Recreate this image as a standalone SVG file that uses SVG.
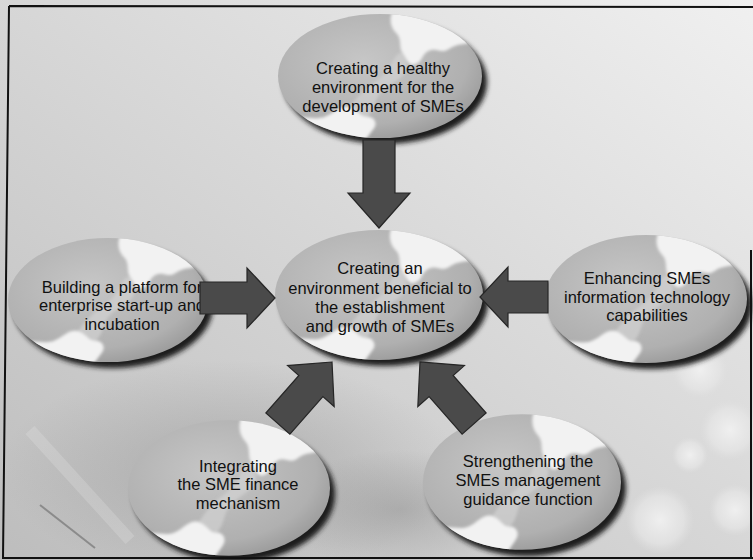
<svg xmlns="http://www.w3.org/2000/svg" xmlns:xlink="http://www.w3.org/1999/xlink" width="753" height="560" viewBox="0 0 753 560">
  <style>
    .lbl { font-family: "Liberation Sans", Arial, sans-serif; font-size: 16.5px; fill: #111; text-anchor: middle; }
    .arrow { fill: #4a4a4a; stroke: #262626; stroke-width: 1.2; stroke-linejoin: miter; }
    .frame { fill: none; stroke: #111; stroke-width: 2; }
    .hl { fill: #f2f2f2; }
  </style>
  <defs>
    <linearGradient id="bg" x1="1" y1="0" x2="0" y2="1">
      <stop offset="0" stop-color="#f0f0f0"/>
      <stop offset="0.45" stop-color="#d9d9d9"/>
      <stop offset="1" stop-color="#bdbdbd"/>
    </linearGradient>
    <radialGradient id="bokeh" cx="0.5" cy="0.5" r="0.5">
      <stop offset="0" stop-color="#f2f2f2" stop-opacity="0.9"/>
      <stop offset="0.7" stop-color="#e6e6e6" stop-opacity="0.7"/>
      <stop offset="1" stop-color="#e0e0e0" stop-opacity="0"/>
    </radialGradient>
    <radialGradient id="dark" cx="0.5" cy="0.5" r="0.5">
      <stop offset="0" stop-color="#8a8a8a" stop-opacity="0.45"/>
      <stop offset="1" stop-color="#8a8a8a" stop-opacity="0"/>
    </radialGradient>
    <radialGradient id="discFill" cx="0.42" cy="0.38" r="0.68">
      <stop offset="0" stop-color="#c6c6c6"/>
      <stop offset="0.75" stop-color="#b0b0b0"/>
      <stop offset="1" stop-color="#979797"/>
    </radialGradient>
    <filter id="blur3" x="-20%" y="-20%" width="140%" height="140%">
      <feGaussianBlur stdDeviation="2.5"/>
    </filter>
    <filter id="blur1" x="-20%" y="-20%" width="140%" height="140%">
      <feGaussianBlur stdDeviation="1.5"/>
    </filter>
    <clipPath id="discClip">
      <ellipse cx="0" cy="0" rx="100" ry="64"/>
    </clipPath>
    <g id="disc">
      <ellipse cx="5" cy="6" rx="100" ry="64" fill="#1c1c1c" filter="url(#blur3)"/>
      <ellipse cx="0" cy="0" rx="100" ry="64" fill="url(#discFill)"/>
      <g clip-path="url(#discClip)" filter="url(#blur1)">
        <path class="hl" d="M 14,-70 C 30,-66 50,-64 64,-56 C 78,-50 90,-44 96,-36 C 84,-32 76,-34 68,-28 C 60,-22 56,-30 48,-26 C 40,-22 42,-14 34,-12 C 28,-10 26,-18 22,-24 C 18,-30 22,-38 16,-44 C 10,-50 8,-60 14,-70 Z"/>
        <path class="hl" d="M -84,44 C -74,40 -64,46 -54,42 C -44,38 -40,30 -30,32 C -22,34 -20,42 -12,42 C -6,42 -2,48 -6,54 C -10,60 -14,64 -16,70 L -90,70 Z"/>
        <path d="M 22,-24 C 26,-16 30,-8 22,0 C 14,8 6,10 0,18 C -6,26 -4,34 -12,42 C -20,40 -24,34 -30,32 C -24,24 -18,16 -10,10 C -2,4 6,-2 10,-10 C 14,-18 16,-24 22,-24 Z" fill="#d2d2d2" opacity="0.7"/>
      </g>
    </g>
  </defs>

  <g id="background">
    <rect x="0" y="0" width="753" height="560" fill="url(#bg)"/>
    <ellipse cx="230" cy="470" rx="230" ry="110" fill="url(#dark)"/>
    <ellipse cx="400" cy="510" rx="120" ry="60" fill="url(#dark)"/>
    <circle cx="700" cy="370" r="28" fill="url(#bokeh)"/>
    <circle cx="730" cy="430" r="30" fill="url(#bokeh)"/>
    <circle cx="660" cy="520" r="34" fill="url(#bokeh)"/>
    <circle cx="735" cy="510" r="26" fill="url(#bokeh)"/>
    <circle cx="690" cy="455" r="18" fill="url(#bokeh)"/>
    <path d="M 40,505 L 95,548" stroke="#6a6a6a" stroke-width="2" opacity="0.6"/>
    <path d="M 30,430 L 130,540" stroke="#e8e8e8" stroke-width="12" opacity="0.25"/>
  </g>

  <g id="node-top">
    <use xlink:href="#disc" href="#disc" transform="translate(380,76) scale(1.02,0.97)"/>
    <text class="lbl" x="383" y="74">Creating a healthy</text>
    <text class="lbl" x="383" y="93">environment for the</text>
    <text class="lbl" x="383" y="112">development of SMEs</text>
  </g>

  <g id="node-left">
    <use xlink:href="#disc" href="#disc" transform="translate(108,300) scale(1.0,0.97)"/>
    <text class="lbl" x="122" y="293">Building a platform for</text>
    <text class="lbl" x="122" y="311">enterprise start-up and</text>
    <text class="lbl" x="122" y="330">incubation</text>
  </g>

  <g id="node-right">
    <use xlink:href="#disc" href="#disc" transform="translate(646,299) scale(1.01,1.0)"/>
    <text class="lbl" x="647" y="284">Enhancing SMEs</text>
    <text class="lbl" x="647" y="303">information technology</text>
    <text class="lbl" x="647" y="321">capabilities</text>
  </g>

  <g id="node-bottom-left">
    <use xlink:href="#disc" href="#disc" transform="translate(229,488) scale(1.01,1.06)"/>
    <text class="lbl" x="238" y="472">Integrating</text>
    <text class="lbl" x="238" y="490">the SME finance</text>
    <text class="lbl" x="238" y="509">mechanism</text>
  </g>

  <g id="node-bottom-right">
    <use xlink:href="#disc" href="#disc" transform="translate(522,482) scale(0.99,1.06)"/>
    <text class="lbl" x="528" y="467">Strengthening the</text>
    <text class="lbl" x="528" y="486">SMEs management</text>
    <text class="lbl" x="528" y="505">guidance function</text>
  </g>

  <g id="node-center">
    <use xlink:href="#disc" href="#disc" transform="translate(379,295) scale(1.04,1.016)"/>
    <text class="lbl" x="380" y="274">Creating an</text>
    <text class="lbl" x="380" y="294">environment beneficial to</text>
    <text class="lbl" x="380" y="313">the establishment</text>
    <text class="lbl" x="380" y="332">and growth of SMEs</text>
  </g>

  <g id="connectors">
    <polygon class="arrow" transform="translate(379,228) rotate(90)" points="0,0 -35,-31 -35,-16 -88,-16 -88,16 -35,16 -35,31"/>
    <polygon class="arrow" transform="translate(275,298)" points="0,0 -28,-30 -28,-16 -75,-16 -75,16 -28,16 -28,30"/>
    <polygon class="arrow" transform="translate(480,297) rotate(180)" points="0,0 -28,-30 -28,-16 -68,-16 -68,16 -28,16 -28,30"/>
    <polygon class="arrow" transform="translate(332,362) rotate(-48.7)" points="0,0 -32,-31 -32,-16 -82,-16 -82,16 -32,16 -32,31"/>
    <polygon class="arrow" transform="translate(420,362) rotate(-131.3)" points="0,0 -32,-31 -32,-16 -82,-16 -82,16 -32,16 -32,31"/>
  </g>

  <g id="frame">
    <path class="frame" d="M 9,6 L 753,7 M 9,6 L 3,558 L 753,558 M 751,250 L 751,558"/>
  </g>
</svg>
